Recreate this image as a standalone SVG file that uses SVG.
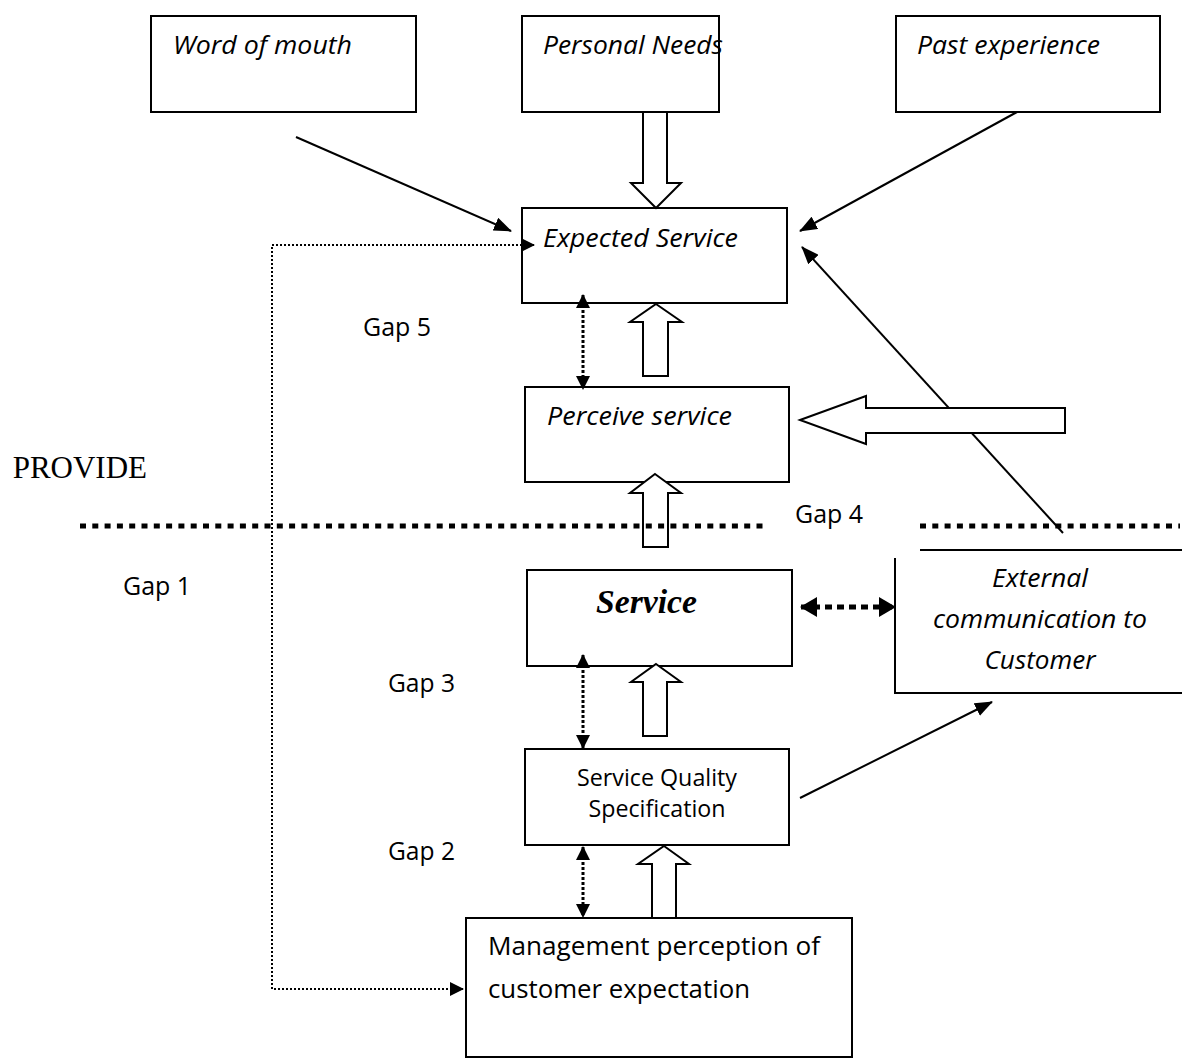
<svg xmlns="http://www.w3.org/2000/svg" width="1182" height="1059" viewBox="0 0 1182 1059">
<style>
.box{fill:#fff;stroke:#000;stroke-width:2}
.it{font-family:"Open Sans","Noto Sans",sans-serif;font-style:italic;font-size:25.5px;fill:#000}
.rg{font-family:"Open Sans","Noto Sans",sans-serif;font-size:25px;fill:#000}
.sq{font-family:"Open Sans","Noto Sans",sans-serif;font-size:23px;fill:#000}
.mg{font-family:"Open Sans","Noto Sans",sans-serif;font-size:26px;fill:#000}
.ln{fill:none;stroke:#000;stroke-width:2}
.hol{fill:#fff;stroke:#000;stroke-width:2;stroke-linejoin:miter}
.dot{fill:none;stroke:#000;stroke-width:3;stroke-dasharray:3 2}
.dot1{fill:none;stroke:#000;stroke-width:2;stroke-dasharray:2 2}
.dot4{fill:none;stroke:#000;stroke-width:5;stroke-dasharray:7 5}
.sep{fill:none;stroke:#000;stroke-width:5;stroke-dasharray:6 6.3}
</style>
<defs>
<marker id="ah" viewBox="0 0 18 14" refX="17" refY="7" markerWidth="18" markerHeight="14" markerUnits="userSpaceOnUse" orient="auto-start-reverse"><path d="M0,0 L18,7 L0,14 z" fill="#000"/></marker>
<marker id="sm" viewBox="0 0 14 14" refX="13" refY="7" markerWidth="14" markerHeight="14" markerUnits="userSpaceOnUse" orient="auto-start-reverse"><path d="M0,0 L14,7 L0,14 z" fill="#000"/></marker>
<marker id="bg" viewBox="0 0 17 20" refX="16" refY="10" markerWidth="17" markerHeight="20" markerUnits="userSpaceOnUse" orient="auto-start-reverse"><path d="M0,0 L17,10 L0,20 z" fill="#000"/></marker>
</defs>
<rect width="1182" height="1059" fill="#fff"/>

<g id="word-of-mouth"><rect class="box" x="151" y="16" width="265" height="96"/><text class="it" x="173" y="54" textLength="179" lengthAdjust="spacingAndGlyphs">Word of mouth</text></g>
<g id="personal-needs"><rect class="box" x="522" y="16" width="197" height="96"/><text class="it" x="543" y="54" textLength="180" lengthAdjust="spacingAndGlyphs">Personal Needs</text></g>
<g id="past-experience"><rect class="box" x="896" y="16" width="264" height="96"/><text class="it" x="917" y="54" textLength="183" lengthAdjust="spacingAndGlyphs">Past experience</text></g>
<g id="expected-service"><rect class="box" x="522" y="208" width="265" height="95"/><text class="it" x="543" y="247" textLength="195" lengthAdjust="spacingAndGlyphs">Expected Service</text></g>
<g id="perceive-service"><rect class="box" x="525" y="387" width="264" height="95"/><text class="it" x="547" y="425" textLength="185" lengthAdjust="spacingAndGlyphs">Perceive service</text></g>
<g id="service"><rect class="box" x="527" y="570" width="265" height="96"/><text x="596" y="613" font-family="Liberation Serif, serif" font-weight="bold" font-style="italic" font-size="34" textLength="101" lengthAdjust="spacingAndGlyphs">Service</text></g>
<g id="external-communication"><path class="ln" d="M920,550 L1182,550 M895,558 L895,693 L1182,693"/>
<text class="it" text-anchor="middle" x="1040" y="587" textLength="96" lengthAdjust="spacingAndGlyphs">External</text>
<text class="it" text-anchor="middle" x="1040" y="628" textLength="214" lengthAdjust="spacingAndGlyphs">communication to</text>
<text class="it" text-anchor="middle" x="1040" y="669" textLength="111" lengthAdjust="spacingAndGlyphs">Customer</text></g>
<g id="service-quality-specification"><rect class="box" x="525" y="749" width="264" height="96"/>
<text class="sq" text-anchor="middle" x="657" y="786" textLength="160" lengthAdjust="spacingAndGlyphs">Service Quality</text>
<text class="sq" text-anchor="middle" x="657" y="817" textLength="137" lengthAdjust="spacingAndGlyphs">Specification</text></g>
<g id="management-perception"><rect class="box" x="466" y="918" width="386" height="139"/>
<text class="mg" x="488" y="955" textLength="332" lengthAdjust="spacingAndGlyphs">Management perception of</text>
<text class="mg" x="488" y="998" textLength="262" lengthAdjust="spacingAndGlyphs">customer expectation</text></g>

<g id="labels">
<text x="147" y="478" text-anchor="end" font-family="Liberation Serif, serif" font-size="31">PROVIDE</text>
<text class="rg" x="363" y="336" textLength="68" lengthAdjust="spacingAndGlyphs">Gap 5</text>
<text class="rg" x="795" y="523" textLength="68" lengthAdjust="spacingAndGlyphs">Gap 4</text>
<text class="rg" x="123" y="595" textLength="68" lengthAdjust="spacingAndGlyphs">Gap 1</text>
<text class="rg" x="388" y="692" textLength="67" lengthAdjust="spacingAndGlyphs">Gap 3</text>
<text class="rg" x="388" y="860" textLength="67" lengthAdjust="spacingAndGlyphs">Gap 2</text>
</g>

<g id="connectors">
<line class="ln" x1="296" y1="137" x2="511" y2="231" marker-end="url(#ah)"/>
<line class="ln" x1="1017" y1="112" x2="800" y2="231" marker-end="url(#ah)"/>
<line class="ln" x1="1063" y1="533" x2="802" y2="247" marker-end="url(#ah)"/>
<line class="ln" x1="800" y1="798" x2="992" y2="702" marker-end="url(#ah)"/>
<path class="dot1" d="M534,245 L272,245 L272,989 L463,989" marker-start="url(#sm)" marker-end="url(#sm)"/>
<line class="dot" x1="583" y1="295" x2="583" y2="389" marker-start="url(#sm)" marker-end="url(#sm)"/>
<line class="dot" x1="583" y1="655" x2="583" y2="748" marker-start="url(#sm)" marker-end="url(#sm)"/>
<line class="dot" x1="583" y1="847" x2="583" y2="917" marker-start="url(#sm)" marker-end="url(#sm)"/>
<line class="dot4" x1="801" y1="607" x2="895" y2="607" marker-start="url(#bg)" marker-end="url(#bg)"/>
<polygon class="hol" points="643,112 667,112 667,183 681,183 656,208 631,183 643,183"/>
<polygon class="hol" points="656,304 682,322 668,322 668,376 643,376 643,322 630,322"/>
<polygon class="hol" points="655,474 681,493 668,493 668,547 643,547 643,493 630,493"/>
<polygon class="hol" points="656,664 681,682 667,682 667,736 643,736 643,682 631,682"/>
<polygon class="hol" points="664,846 689,864 676,864 676,918 652,918 652,864 638,864"/>
<polygon class="hol" points="800,420 866,396 866,408 1065,408 1065,433 866,433 866,444"/>
</g>

<g id="provider-line">
<line class="sep" x1="80" y1="526" x2="768" y2="526"/>
<line class="sep" x1="920" y1="526" x2="1180" y2="526"/>
</g>
</svg>
